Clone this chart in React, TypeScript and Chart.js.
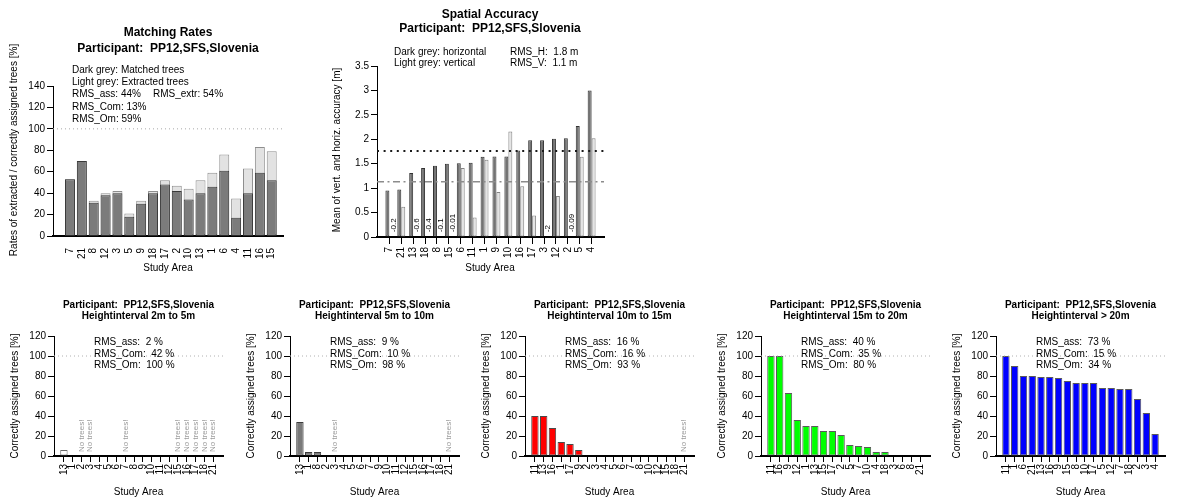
import React, { useEffect, useRef } from 'react';
import { Chart, registerables } from 'chart.js';

Chart.register(...registerables);

const FONT = '"Liberation Sans", Arial, Helvetica, sans-serif';
const PARTICIPANT = 'Participant:  PP12,SFS,Slovenia';
const STUDY_AREA = 'Study Area';

// ---------- Matching rates ----------
const matchAreas = ['7', '21', '8', '12', '3', '5', '9', '18', '17', '2', '10', '13', '1', '6', '4', '11', '16', '15'];
const matchedRates = [53, 70, 31, 38, 40, 18, 30, 40, 48, 42, 34, 40, 46, 61, 17, 40, 59, 52];
const extractedRates = [53, 70, 33, 40, 42, 21, 33, 42, 52, 47, 44, 52, 59, 76, 35, 63, 83, 79];
const matchYTicks = [0, 20, 40, 60, 80, 100, 120, 140];
const rmsAss = 44;
const rmsExtr = 54;
const rmsCom = 13;
const rmsOm = 59;

// ---------- Spatial accuracy ----------
const spatialAreas = ['7', '21', '13', '18', '8', '15', '6', '11', '1', '9', '10', '16', '17', '3', '12', '2', '5', '4'];
const horizontalAcc = [0.95, 0.97, 1.31, 1.41, 1.46, 1.5, 1.51, 1.52, 1.64, 1.65, 1.65, 1.77, 1.98, 1.98, 2.01, 2.02, 2.27, 3.0];
const verticalAcc = [-0.2, 0.62, -0.6, -0.4, -0.1, -0.01, 1.41, 0.4, 1.58, 0.92, 2.16, 1.04, 0.44, -2, 0.84, -0.09, 1.64, 2.02];
const spatialYTicks = [0, 0.5, 1, 1.5, 2, 2.5, 3, 3.5];
const rmsH = 1.76;
const rmsV = 1.13;

// ---------- Height intervals ----------
const heightYTicks = [0, 20, 40, 60, 80, 100, 120];

const h1Areas = ['13', '1', '2', '3', '4', '5', '6', '7', '8', '9', '10', '11', '12', '15', '16', '17', '18', '21'];
const h1Rates = [6, 0, null, null, 0, 0, 0, null, 0, 0, 0, 0, 0, null, null, null, null, null];
const h1Rms = [2, 42, 100];

const h2Areas = ['13', '1', '8', '2', '3', '4', '5', '6', '7', '9', '10', '11', '12', '15', '16', '17', '18', '21'];
const h2Rates = [34, 4, 4, 0, null, 0, 0, 0, 0, 0, 0, 0, 0, 0, 0, 0, 0, null];
const h2Rms = [9, 10, 98];

const h3Areas = ['11', '13', '16', '1', '17', '9', '2', '3', '4', '5', '6', '7', '8', '10', '12', '15', '18', '21'];
const h3Rates = [40, 40, 28, 14, 12, 6, 0, 0, 0, 0, 0, 0, 0, 0, 0, 0, 0, null];
const h3Rms = [16, 16, 93];

const h4Areas = ['11', '16', '9', '12', '1', '13', '15', '17', '2', '5', '7', '10', '4', '18', '3', '6', '8', '21'];
const h4Rates = [100, 100, 63, 36, 30, 30, 25, 25, 21, 11, 10, 9, 4, 4, 0, 0, 0, 0];
const h4Rms = [40, 35, 80];

const h5Areas = ['11', '1', '6', '21', '13', '16', '9', '15', '8', '10', '17', '5', '12', '7', '18', '2', '3', '4'];
const h5Rates = [100, 90, 80, 80, 79, 79, 78, 75, 73, 73, 73, 68, 68, 67, 67, 57, 43, 22];
const h5Rms = [73, 15, 34];

const heightPanels = [
  { title: 'Heightinterval 2m to 5m', areas: h1Areas, rates: h1Rates, rms: h1Rms, fill: '#ffffff', stroke: '#6a6a6a' },
  { title: 'Heightinterval 5m to 10m', areas: h2Areas, rates: h2Rates, rms: h2Rms, fill: '#7a7a7a', stroke: '#3c3c3c' },
  { title: 'Heightinterval 10m to 15m', areas: h3Areas, rates: h3Rates, rms: h3Rms, fill: '#ff0000', stroke: '#4a4a4a' },
  { title: 'Heightinterval 15m to 20m', areas: h4Areas, rates: h4Rates, rms: h4Rms, fill: '#00ff00', stroke: '#5a5a5a' },
  { title: 'Heightinterval > 20m', areas: h5Areas, rates: h5Rates, rms: h5Rms, fill: '#0000ff', stroke: '#5a5a5a' },
];
const heightLefts = [0, 236, 471, 707, 942];

// ---------- helpers ----------
type TextItem = { text: string; x: number; y: number; size: number; bold?: boolean; align?: CanvasTextAlign; rotate?: boolean; color?: string };
type RefLine = { value: number; color: string; dash: number[]; width: number };
type Mark = { index: number; text: string; value: number; dx: number; color: string };
type Geom = { w: number; h: number; left: number; right: number; top: number; bottom: number; yAxisW: number; xAxisH: number; xMin: number; xMax: number };

function overlayPlugin(texts: TextItem[], refLines: RefLine[], marks: Mark[]) {
  return {
    id: 'overlay',
    afterDatasetsDraw(chart: any) {
      const { ctx, chartArea, scales } = chart;
      const xs = scales.x;
      const ys = scales.y;
      ctx.save();
      refLines.forEach((l) => {
        const py = ys.getPixelForValue(l.value);
        ctx.beginPath();
        ctx.setLineDash(l.dash);
        ctx.strokeStyle = l.color;
        ctx.lineWidth = l.width;
        ctx.moveTo(chartArea.left, py);
        ctx.lineTo(chartArea.right, py);
        ctx.stroke();
      });
      ctx.setLineDash([]);
      marks.forEach((m) => {
        const px = xs.getPixelForValue(m.index) + m.dx;
        const py = ys.getPixelForValue(m.value);
        ctx.save();
        ctx.translate(px, py);
        ctx.rotate(-Math.PI / 2);
        ctx.font = `8px ${FONT}`;
        ctx.fillStyle = m.color;
        ctx.textAlign = 'left';
        ctx.textBaseline = 'middle';
        ctx.fillText(m.text, 0, 0);
        ctx.restore();
      });
      ctx.restore();
    },
    afterDraw(chart: any) {
      const ctx = chart.ctx;
      texts.forEach((t) => {
        ctx.save();
        ctx.font = `${t.bold ? 'bold ' : ''}${t.size}px ${FONT}`;
        ctx.fillStyle = t.color || '#000';
        ctx.textAlign = t.align || 'left';
        ctx.textBaseline = 'middle';
        ctx.translate(t.x, t.y);
        if (t.rotate) ctx.rotate(-Math.PI / 2);
        ctx.fillText(t.text, 0, 0);
        ctx.restore();
      });
    },
  };
}

function makeConfig(p: {
  geom: Geom;
  labels: string[];
  yTicks: number[];
  datasets: any[];
  texts: TextItem[];
  refLines: RefLine[];
  marks: Mark[];
  xTickLen: number;
  xTickVisible: boolean;
  xTickPad: number;
}): any {
  const g = p.geom;
  return {
    type: 'bar',
    data: { datasets: p.datasets },
    options: {
      responsive: false,
      animation: false,
      events: [],
      layout: {
        autoPadding: false,
        padding: { left: g.left - g.yAxisW, right: g.w - g.right, top: g.top, bottom: g.h - g.bottom - g.xAxisH },
      },
      plugins: { legend: { display: false }, title: { display: false }, tooltip: { enabled: false } },
      scales: {
        x: {
          type: 'linear',
          min: g.xMin,
          max: g.xMax,
          offset: false,
          afterBuildTicks: (s: any) => {
            s.ticks = p.labels.map((_, i) => ({ value: i }));
          },
          afterFit: (s: any) => {
            s.height = g.xAxisH;
          },
          ticks: {
            autoSkip: false,
            minRotation: 90,
            maxRotation: 90,
            padding: p.xTickPad,
            color: '#000',
            font: { family: FONT, size: 10 },
            callback: (v: any) => p.labels[Math.round(Number(v))] ?? '',
          },
          grid: {
            drawOnChartArea: false,
            drawTicks: true,
            tickLength: p.xTickLen,
            color: p.xTickVisible ? '#000' : 'rgba(0,0,0,0)',
            offset: false,
          },
          border: { display: true, color: '#000', width: 2 },
        },
        y: {
          type: 'linear',
          min: p.yTicks[0],
          max: p.yTicks[p.yTicks.length - 1],
          afterBuildTicks: (s: any) => {
            s.ticks = p.yTicks.map((v) => ({ value: v }));
          },
          afterFit: (s: any) => {
            s.width = g.yAxisW;
          },
          ticks: {
            padding: 2,
            color: '#000',
            font: { family: FONT, size: 10 },
            callback: (v: any) => String(v),
          },
          grid: { drawOnChartArea: false, drawTicks: true, tickLength: 6, color: '#000' },
          border: { display: true, color: '#000', width: 1 },
        },
      },
    },
    plugins: [overlayPlugin(p.texts, p.refLines, p.marks)],
  };
}

// ---------- chart builders ----------
function buildMatching() {
  const geom: Geom = { w: 300, h: 280, left: 53, right: 283, top: 86, bottom: 236, yAxisW: 45, xAxisH: 30, xMin: -1.43, xMax: 17.95 };
  const cx = 168;
  return makeConfig({
    geom,
    labels: matchAreas,
    yTicks: matchYTicks,
    datasets: [
      {
        data: matchedRates.map((v, i) => ({ x: i, y: v })),
        backgroundColor: '#7b7b7b',
        borderColor: '#3a3a3a',
        borderWidth: 1,
        borderSkipped: false,
        grouped: false,
        barPercentage: 0.84,
        categoryPercentage: 1,
      },
      {
        data: extractedRates.map((v, i) => ({ x: i, y: v })),
        backgroundColor: '#e2e2e2',
        borderColor: '#8e8e8e',
        borderWidth: 1,
        borderSkipped: false,
        grouped: false,
        barPercentage: 0.84,
        categoryPercentage: 1,
      },
    ],
    texts: [
      { text: 'Matching Rates', x: cx, y: 33, size: 12, bold: true, align: 'center' },
      { text: PARTICIPANT, x: cx, y: 49, size: 12, bold: true, align: 'center' },
      { text: 'Dark grey: Matched trees', x: 72, y: 70, size: 10 },
      { text: 'Light grey: Extracted trees', x: 72, y: 82, size: 10 },
      { text: `RMS_ass: ${rmsAss}%`, x: 72, y: 94.5, size: 10 },
      { text: `RMS_extr: ${rmsExtr}%`, x: 153, y: 94.5, size: 10 },
      { text: `RMS_Com: ${rmsCom}%`, x: 72, y: 107, size: 10 },
      { text: `RMS_Om: ${rmsOm}%`, x: 72, y: 119, size: 10 },
      { text: 'Rates of extracted / correctly assigned trees [%]', x: 14, y: 150, size: 10, align: 'center', rotate: true },
      { text: STUDY_AREA, x: cx, y: 268, size: 10, align: 'center' },
    ],
    refLines: [{ value: 100, color: '#a8a8a8', dash: [1, 3], width: 1 }],
    marks: [],
    xTickLen: 8,
    xTickVisible: false,
    xTickPad: 4,
  });
}

function buildSpatial() {
  const geom: Geom = { w: 320, h: 280, left: 77, right: 304, top: 66, bottom: 237, yAxisW: 45, xAxisH: 30, xMin: -1.04, xMax: 18.04 };
  const cx = 190;
  const marks: Mark[] = [];
  verticalAcc.forEach((v, i) => {
    if (v < 0) marks.push({ index: i, text: String(v), value: 0.1, dx: 4, color: '#000' });
  });
  return makeConfig({
    geom,
    labels: spatialAreas,
    yTicks: spatialYTicks,
    datasets: [
      {
        data: horizontalAcc.map((v, i) => ({ x: i, y: v })),
        backgroundColor: '#737373',
        borderColor: '#333333',
        borderWidth: 1,
        borderSkipped: false,
        barPercentage: 1,
        categoryPercentage: 2 / 3,
      },
      {
        data: verticalAcc.map((v, i) => ({ x: i, y: v < 0 ? null : v })),
        backgroundColor: '#e4e4e4',
        borderColor: '#858585',
        borderWidth: 1,
        borderSkipped: false,
        barPercentage: 1,
        categoryPercentage: 2 / 3,
      },
    ],
    texts: [
      { text: 'Spatial Accuracy', x: cx, y: 15, size: 12, bold: true, align: 'center' },
      { text: PARTICIPANT, x: cx, y: 29, size: 12, bold: true, align: 'center' },
      { text: 'Dark grey: horizontal', x: 94, y: 52, size: 10 },
      { text: 'Light grey: vertical', x: 94, y: 63.5, size: 10 },
      { text: `RMS_H:  ${rmsH.toFixed(1)} m`, x: 210, y: 52, size: 10 },
      { text: `RMS_V:  ${rmsV.toFixed(1)} m`, x: 210, y: 63.5, size: 10 },
      { text: 'Mean of vert. and horiz. accuracy [m]', x: 37, y: 150, size: 10, align: 'center', rotate: true },
      { text: STUDY_AREA, x: cx, y: 268, size: 10, align: 'center' },
    ],
    refLines: [
      { value: rmsH, color: '#1a1a1a', dash: [2, 4.6], width: 2 },
      { value: rmsV, color: '#8c8c8c', dash: [7, 3.5, 2, 3.5], width: 1.5 },
    ],
    marks,
    xTickLen: 7,
    xTickVisible: true,
    xTickPad: 3,
  });
}

function buildHeight(k: number) {
  const panel = heightPanels[k];
  const geom: Geom = { w: 236, h: 209, left: 54, right: 223, top: 46, bottom: 166, yAxisW: 42, xAxisH: 28, xMin: -1.13, xMax: 18.13 };
  const cx = 138.5;
  const marks: Mark[] = [];
  panel.rates.forEach((v, i) => {
    if (v === null) marks.push({ index: i, text: 'No trees!', value: 4, dx: 0, color: '#9a9a9a' });
  });
  return makeConfig({
    geom,
    labels: panel.areas,
    yTicks: heightYTicks,
    datasets: [
      {
        data: panel.rates.map((v, i) => ({ x: i, y: v })),
        backgroundColor: panel.fill,
        borderColor: panel.stroke,
        borderWidth: 1,
        borderSkipped: false,
        barPercentage: 0.84,
        categoryPercentage: 1,
      },
    ],
    texts: [
      { text: PARTICIPANT, x: cx, y: 15, size: 10, bold: true, align: 'center' },
      { text: panel.title, x: cx, y: 26.5, size: 10, bold: true, align: 'center' },
      { text: `RMS_ass:  ${panel.rms[0]} %`, x: 94, y: 52.5, size: 10 },
      { text: `RMS_Com:  ${panel.rms[1]} %`, x: 94, y: 64, size: 10 },
      { text: `RMS_Om:  ${panel.rms[2]} %`, x: 94, y: 75.5, size: 10 },
      { text: 'Correctly assigned trees [%]', x: 15, y: 106, size: 10, align: 'center', rotate: true },
      { text: STUDY_AREA, x: cx, y: 202, size: 10, align: 'center' },
    ],
    refLines: [{ value: 100, color: '#b0b0b0', dash: [1, 3], width: 1 }],
    marks,
    xTickLen: 6,
    xTickVisible: true,
    xTickPad: 2,
  });
}

function ChartCanvas(props: { left: number; top: number; width: number; height: number; build: () => any }) {
  const ref = useRef<HTMLCanvasElement | null>(null);
  const { left, top, width, height, build } = props;
  useEffect(() => {
    if (!ref.current) return;
    const chart = new Chart(ref.current, build());
    return () => chart.destroy();
  }, [build]);
  return (
    <canvas
      ref={ref}
      width={width}
      height={height}
      style={{ position: 'absolute', left, top, width, height, display: 'block' }}
    />
  );
}

const heightBuilders = heightPanels.map((_, k) => () => buildHeight(k));

export default function App() {
  return (
    <div style={{ position: 'absolute', left: 0, top: 0, width: 1179, height: 499, background: '#ffffff', overflow: 'hidden' }}>
      <ChartCanvas left={0} top={0} width={300} height={280} build={buildMatching} />
      <ChartCanvas left={300} top={0} width={320} height={280} build={buildSpatial} />
      {heightBuilders.map((b, k) => (
        <ChartCanvas key={k} left={heightLefts[k]} top={290} width={236} height={209} build={b} />
      ))}
    </div>
  );
}
